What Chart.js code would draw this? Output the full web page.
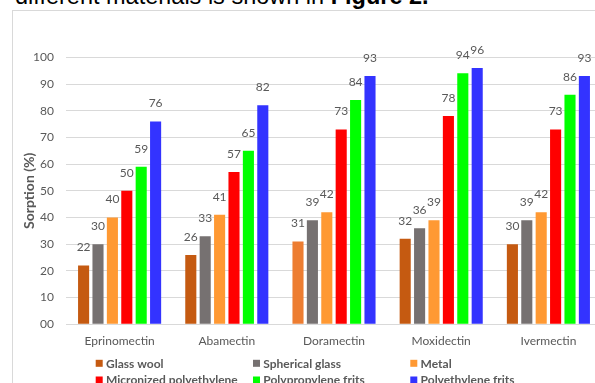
<!DOCTYPE html>
<html>
<head>
<meta charset="utf-8">
<script src="https://cdn.jsdelivr.net/npm/chart.js@4/dist/chart.umd.min.js"></script>
<style>
  html, body { margin: 0; padding: 0; background: #fff; overflow: hidden; width: 595px; height: 383px; }
  #lead {
    position: absolute; left: 15px; top: -15.6px; white-space: nowrap;
    font: 23.5px "Liberation Sans", Arial, sans-serif; line-height: 24px; color: #000;
  }
  #box {
    position: absolute; left: 12px; top: 10px; width: 620px; height: 400px;
    border: 1px solid #d9d9d9; background: #fff;
  }
  canvas { display: block; }
</style>
</head>
<body>
<div id="lead">different materials is shown in <b>Figure 2.</b></div>
<div id="box"><canvas id="c" width="620" height="400"></canvas></div>
<script>
// Sorption (%) of each avermectin/milbemycin on six filter materials
const categories = ['Eprinomectin', 'Abamectin', 'Doramectin', 'Moxidectin', 'Ivermectin'];
const seriesNames = ['Glass wool', 'Spherical glass', 'Metal', 'Micronized polyethylene', 'Polypropylene frits', 'Polyethylene frits'];
const glassWool      = [22, 26, 31, 32, 30];
const sphericalGlass = [30, 33, 39, 36, 39];
const metal          = [40, 41, 42, 39, 42];
const micronizedPE   = [50, 57, 73, 78, 73];
const polypropylene  = [59, 65, 84, 94, 86];
const polyethylene   = [76, 82, 93, 96, 93];
const yTicks = [0, 10, 20, 30, 40, 50, 60, 70, 80, 90, 100];

const seriesValues = [glassWool, sphericalGlass, metal, micronizedPE, polypropylene, polyethylene];
const seriesColors = ['#C55A11', '#767171', '#FF9933', '#FF0000', '#00FF00', '#3333FF'];
const FONT = 'Lato, "Open Sans", sans-serif';
const TEXT = '#595959';

const datasets = seriesValues.map((vals, i) => ({
  label: seriesNames[i],
  data: vals,
  backgroundColor: i === 0
    ? vals.map((_, j) => j === 2 ? '#ED7D31' : seriesColors[0])
    : seriesColors[i],
  legendColor: seriesColors[i],
  borderWidth: 0,
  categoryPercentage: 0.806,
  barPercentage: 0.77
}));

// value labels above each bar
const valueLabels = {
  id: 'valueLabels',
  afterDatasetsDraw(chart) {
    const ctx = chart.ctx;
    ctx.save();
    ctx.font = '12px ' + FONT;
    ctx.fillStyle = TEXT;
    ctx.textAlign = 'center';
    ctx.textBaseline = 'middle';
    chart.data.datasets.forEach((ds, i) => {
      chart.getDatasetMeta(i).data.forEach((bar, j) => {
        ctx.fillText(String(ds.data[j]), bar.x, bar.y - 18);
      });
    });
    ctx.restore();
  }
};

// two-row, three-column legend under the axis
const gridLegend = {
  id: 'gridLegend',
  afterDraw(chart) {
    const ctx = chart.ctx;
    const colX = [82.7, 240, 397.3];
    const rowY = [352.3, 369];
    ctx.save();
    ctx.font = 'bold 12px ' + FONT;
    ctx.textBaseline = 'middle';
    ctx.textAlign = 'left';
    chart.data.datasets.forEach((ds, i) => {
      const x = colX[i % 3], y = rowY[Math.floor(i / 3)];
      ctx.fillStyle = ds.legendColor;
      ctx.fillRect(x, y - 3.5, 7, 7);
      ctx.fillStyle = TEXT;
      ctx.fillText(ds.label, x + 10.3, y + 0.5);
    });
    ctx.restore();
  }
};

new Chart(document.getElementById('c'), {
  type: 'bar',
  data: { labels: categories, datasets },
  options: {
    responsive: false,
    animation: false,
    layout: { padding: { left: 8, right: 31, top: 46.3, bottom: 56.7 } },
    plugins: { legend: { display: false }, tooltip: { enabled: false } },
    scales: {
      x: {
        grid: { display: false, drawTicks: false },
        border: { display: true, color: '#d9d9d9', width: 1 },
        ticks: { color: TEXT, font: { family: FONT, size: 12 }, padding: 10, maxRotation: 0 },
        afterFit(s) { s.height = 30; }
      },
      y: {
        min: 0, max: 100,
        afterBuildTicks(s) { s.ticks = yTicks.map(v => ({ value: v })); },
        afterFit(s) { s.width = 45; },
        grid: { color: '#d9d9d9', lineWidth: 1, drawTicks: false },
        border: { display: false },
        ticks: {
          color: TEXT, font: { family: FONT, size: 12 }, padding: 12,
          callback: v => v === 0 ? '00' : String(v)
        },
        title: {
          display: true, text: 'Sorption (%)', color: TEXT,
          font: { family: FONT, size: 14, weight: 'bold' },
          padding: { top: 0, bottom: 0 }
        }
      }
    }
  },
  plugins: [valueLabels, gridLegend]
});
</script>
</body>
</html>
